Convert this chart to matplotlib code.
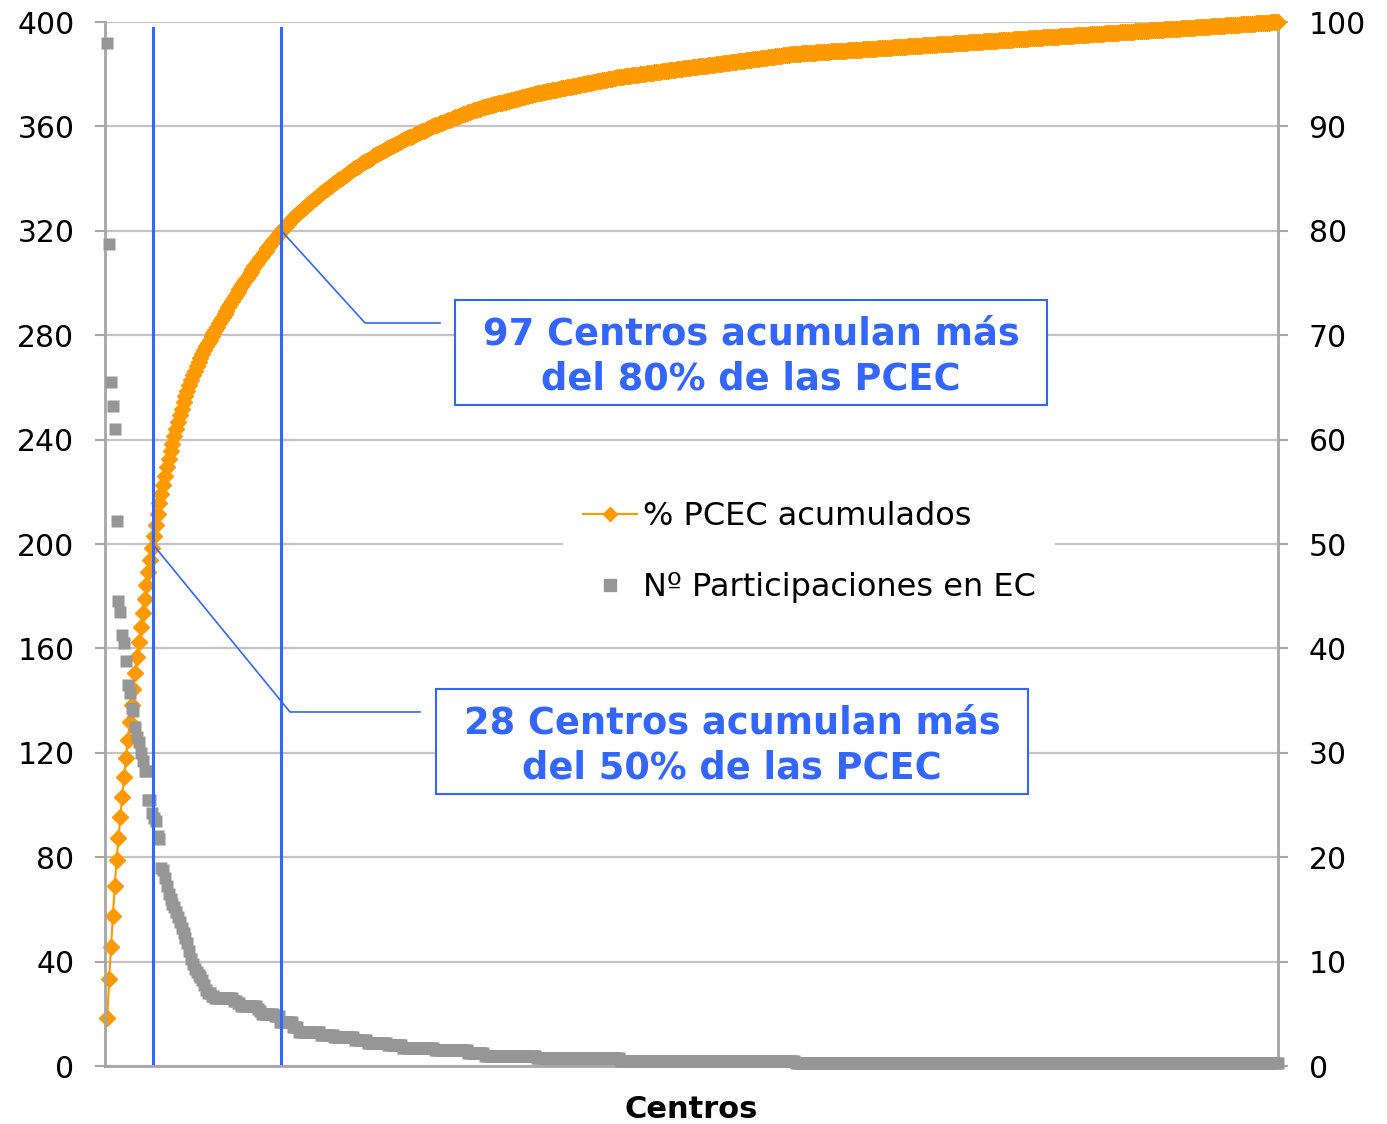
import matplotlib
matplotlib.use("Agg")
import matplotlib.pyplot as plt
import numpy as np
from matplotlib.lines import Line2D
from matplotlib.patches import Rectangle

# Nº de participaciones por centro (ordenado de mayor a menor), primeros centros uno a uno
primeros = [392, 315, 262, 253, 244, 209, 178, 174, 165, 162, 155, 146, 143, 137, 136,
            130, 126, 124, 120, 117, 113, 113, 102, 102, 97, 95, 94, 88, 87, 76,
            75, 72, 69, 66, 64, 62, 61, 59, 57, 55, 53, 51, 49, 47, 44,
            41, 39, 37, 36, 35, 34, 33, 31, 29, 28, 28, 27, 27]
# resto de centros: valor y cuantos centros tienen ese valor
resto_valor = [26, 25, 24, 23, 22, 21, 20, 19, 17, 15, 13, 12, 11, 10, 9, 8, 7, 6, 5, 4, 3, 2, 1]
resto_num = [10, 2, 2, 9, 1, 1, 7, 3, 7, 3, 12, 7, 11, 7, 11, 8, 17, 18, 9, 28, 45, 94, 260]

ticks_izq = np.arange(0, 401, 40)
ticks_der = np.arange(0, 101, 10)
texto_80 = "97 Centros acumulan más\ndel 80% de las PCEC"
texto_50 = "28 Centros acumulan más\ndel 50% de las PCEC"

participaciones = np.concatenate([primeros, np.repeat(resto_valor, resto_num)])
centros = np.arange(1, len(participaciones) + 1)
pct_acum = np.cumsum(participaciones) / participaciones.sum() * 100

naranja = "#FF9900"
gris = "#969696"
azul = "#3366FF"
eje = "#A6A6A6"

fig = plt.figure(figsize=(13.87, 11.24), dpi=100)
rect = [105 / 1387, 1 - 1066 / 1124, 1173 / 1387, 1044 / 1124]
ax_pct = fig.add_axes(rect)
ax = fig.add_axes(rect, sharex=ax_pct)
ax.patch.set_visible(False)

# eje derecho: % acumulado
ax_pct.plot(centros, pct_acum, color=naranja, marker="D", ms=8, mec=naranja,
            lw=1.5, clip_on=False, zorder=3)
ax_pct.set_ylim(0, 100)
ax_pct.set_yticks(ticks_der)
ax_pct.yaxis.tick_right()
ax_pct.yaxis.grid(True, color="#C4C4C4", lw=1.6)
ax_pct.set_axisbelow(True)
for s in ["top", "left", "bottom"]:
    ax_pct.spines[s].set_visible(False)
ax_pct.spines["right"].set_color(eje)
ax_pct.spines["right"].set_linewidth(2)
ax_pct.tick_params(axis="y", direction="out", length=7, width=1.5, color=eje,
                   labelsize=21.5, pad=15)

# eje izquierdo: participaciones
ax.plot(centros, participaciones, ls="none", marker="s", ms=9, color=gris,
        mec="none", clip_on=False, zorder=3)
ax.set_ylim(0, 400)
ax.set_yticks(ticks_izq)
ax.set_xlim(-0.24, len(centros))
ax.set_xticks([])
for s in ["top", "right"]:
    ax.spines[s].set_visible(False)
for s in ["left", "bottom"]:
    ax.spines[s].set_color(eje)
    ax.spines[s].set_linewidth(2)
ax.tick_params(axis="y", direction="out", length=7, width=1.5, color=eje,
               labelsize=21.5, pad=15)
ax.set_xlabel("Centros", fontsize=22, fontweight="bold", labelpad=21)

# lineas del 50% y 80%
x50 = np.interp(50, pct_acum, centros)
x80 = np.interp(80, pct_acum, centros)
for xv in [x50, x80]:
    ax.axvline(xv, ymin=0.003, ymax=0.994, color=azul, lw=2.2, zorder=4)

# cuadros de texto con su conector
a_ejes = ax.transAxes.inverted()
for xv, pv, codo, fin, caja, txt in [
        (x80, 80, (0.2217, 0.7117), 0.2856, (0.2984, 0.6331), texto_80),
        (x50, 50, (0.1577, 0.3391), 0.2685, (0.2822, 0.2605), texto_50)]:
    p0 = a_ejes.transform(ax_pct.transData.transform((xv, pv)))
    ax.plot([p0[0], codo[0], fin], [p0[1], codo[1], codo[1]], color=azul, lw=1.2,
            transform=ax.transAxes, zorder=4)
    ax.add_patch(Rectangle(caja, 0.5047, 0.1006, transform=ax.transAxes,
                           facecolor="white", edgecolor=azul, lw=1.5, zorder=5))
    ax.text(caja[0] + 0.5047 / 2, caja[1] + 0.1006 / 2 - 0.004, txt,
            transform=ax.transAxes, ha="center", va="center", fontsize=26.5,
            fontweight="bold", color=azul, linespacing=1.28, zorder=6)

handles = [Line2D([], [], color=naranja, marker="D", ms=7, lw=1.5),
           Line2D([], [], color=gris, marker="s", ms=8, ls="none")]
leg = ax.legend(handles, ["% PCEC acumulados", "Nº Participaciones en EC"],
                loc="center", bbox_to_anchor=(0.6005, 0.492), fontsize=23,
                frameon=True, facecolor="white", edgecolor="none", framealpha=1,
                handlelength=1.7, handletextpad=0.2, labelspacing=1.25,
                borderpad=0.6, fancybox=False)
leg.set_zorder(5)

fig.savefig("out.png", dpi=100)
